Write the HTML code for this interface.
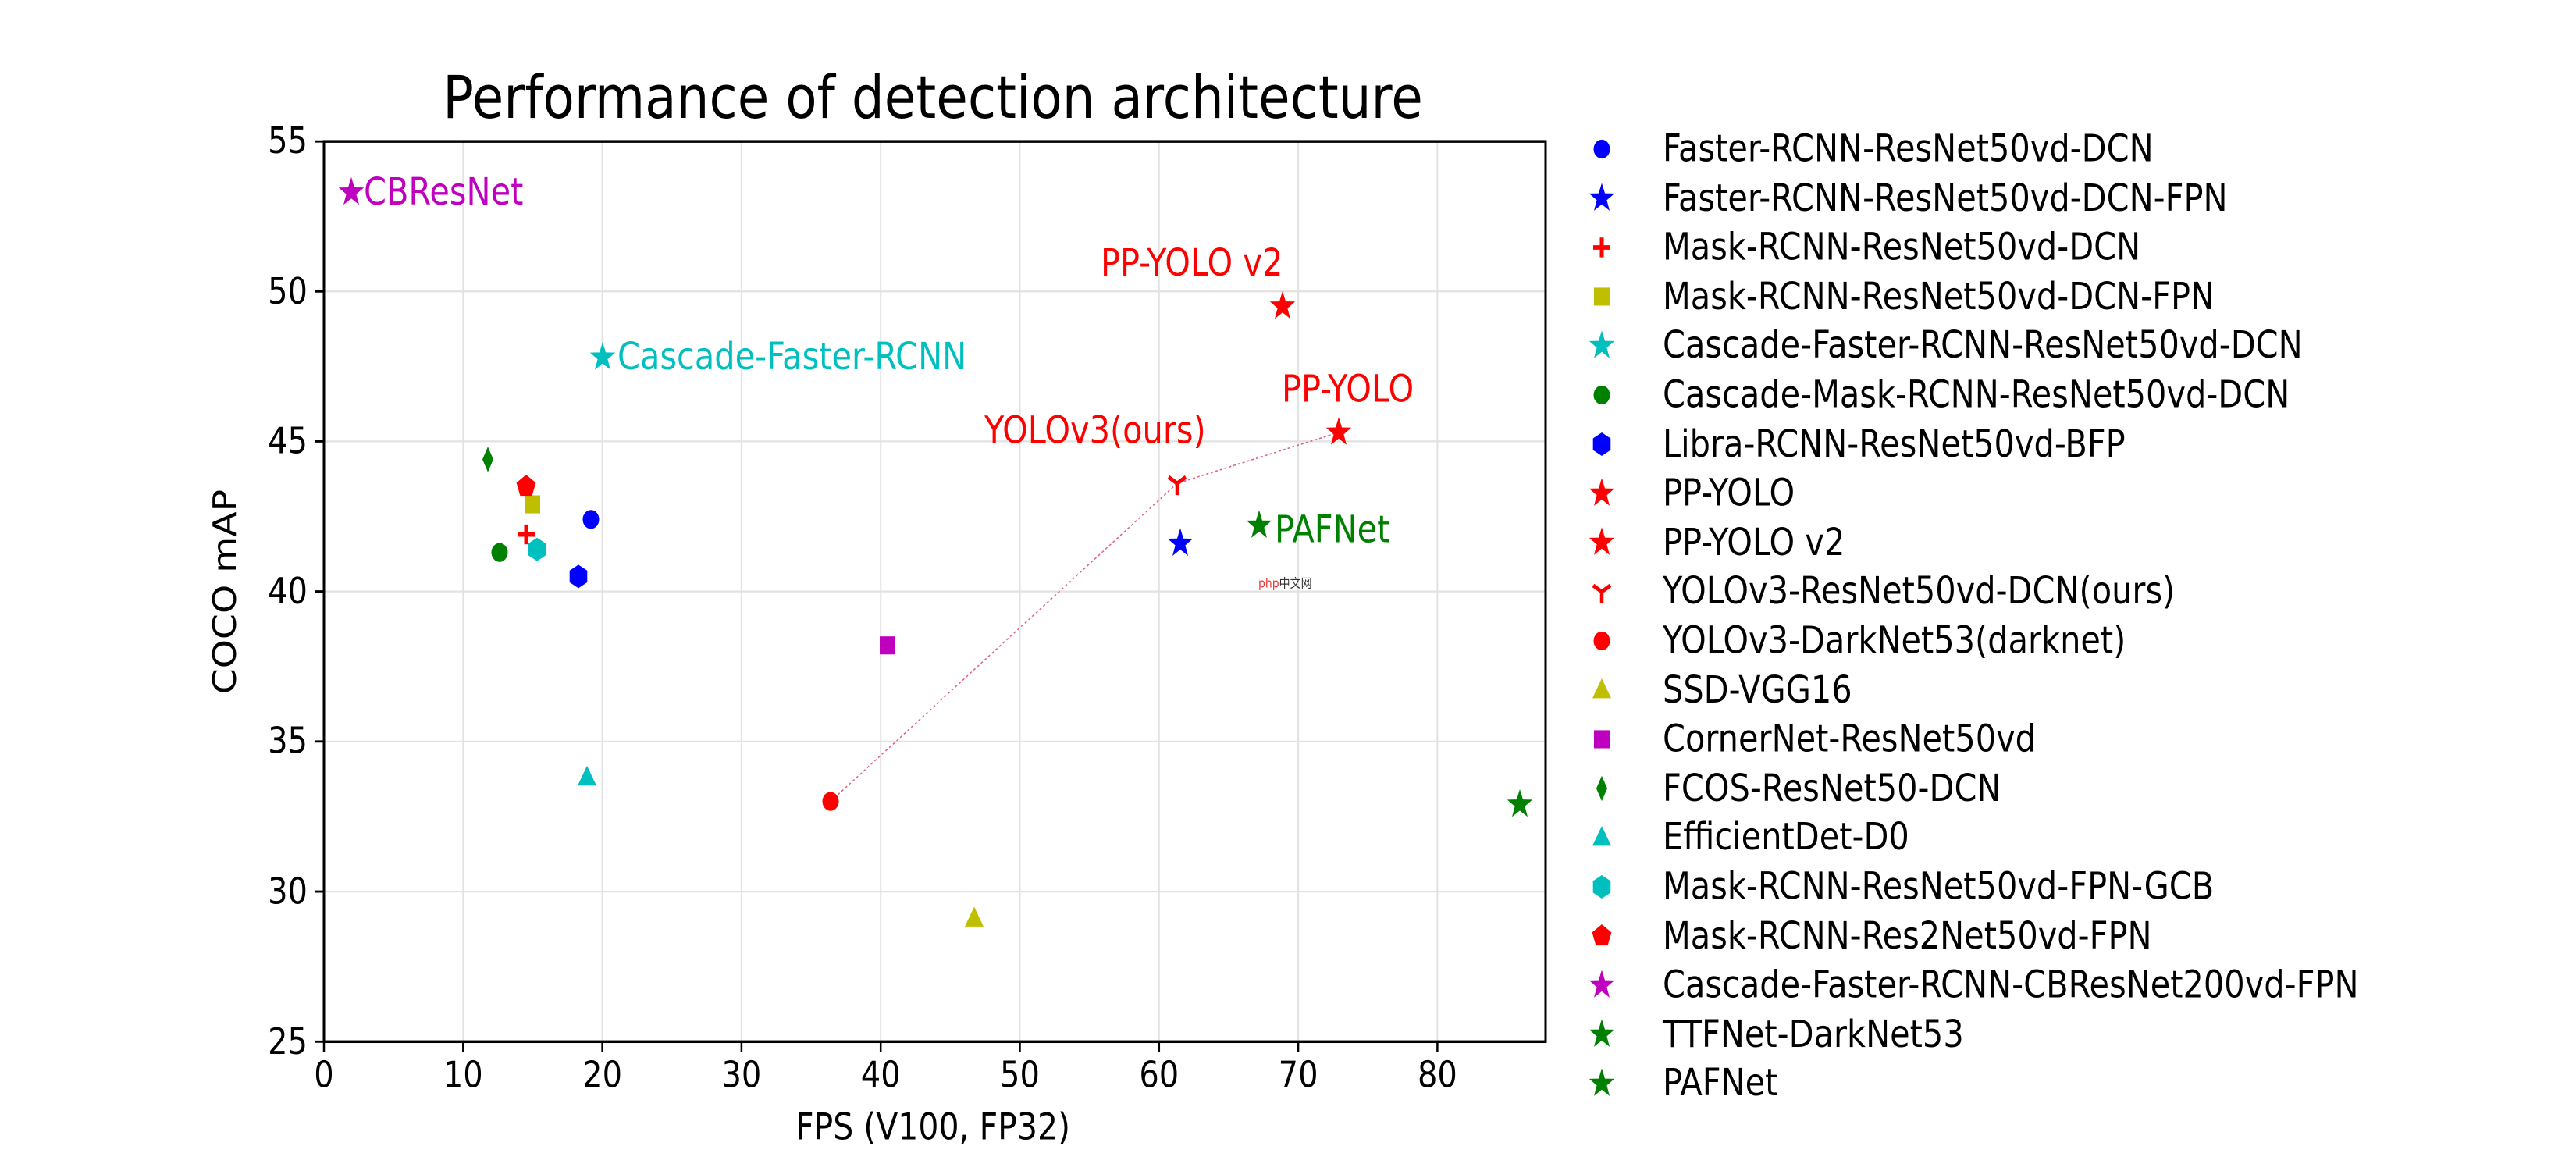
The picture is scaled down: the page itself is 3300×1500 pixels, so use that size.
<!DOCTYPE html>
<html><head><meta charset="utf-8"><style>
html,body{margin:0;padding:0;background:#fff;width:3300px;height:1500px;overflow:hidden}
svg{display:block}
text{font-family:"DejaVu Sans","Liberation Sans",sans-serif}
</style></head><body>
<svg width="3300" height="1500" viewBox="0 0 3300 1300" preserveAspectRatio="none" xmlns="http://www.w3.org/2000/svg">
<defs>
<polygon id="st" points="0,-17 4,-5.5 16.2,-5.3 6.4,2.1 10,13.8 0,6.8 -10,13.8 -6.4,2.1 -16.2,-5.3 -4,-5.5"/>
<circle id="ci" r="10.5"/>
<rect id="sq" x="-10" y="-10" width="20" height="20"/>
<polygon id="hx" points="0,-13 11.3,-6.5 11.3,6.5 0,13 -11.3,6.5 -11.3,-6.5"/>
<polygon id="pe" points="0,-13 12.4,-4 7.6,10.5 -7.6,10.5 -12.4,-4"/>
<polygon id="tr" points="0,-13 12,9 -12,9"/>
<polygon id="di" points="0,-14 7,0 0,14 -7,0"/>
<polygon id="pl" points="-2.5,-11 2.5,-11 2.5,-2.5 11,-2.5 11,2.5 2.5,2.5 2.5,11 -2.5,11 -2.5,2.5 -11,2.5 -11,-2.5 -2.5,-2.5"/>
<g id="yy" fill="none" stroke-width="4.5"><path d="M0,0 L0,13 M0,0 L-11,-7 M0,0 L11,-7"/></g>
</defs>
<g stroke="#e2e2e2" stroke-width="2">
<line x1="593.3" y1="157" x2="593.3" y2="1156"/><line x1="771.6" y1="157" x2="771.6" y2="1156"/>
<line x1="949.9" y1="157" x2="949.9" y2="1156"/><line x1="1128.2" y1="157" x2="1128.2" y2="1156"/>
<line x1="1306.5" y1="157" x2="1306.5" y2="1156"/><line x1="1484.8" y1="157" x2="1484.8" y2="1156"/>
<line x1="1663.1" y1="157" x2="1663.1" y2="1156"/><line x1="1841.4" y1="157" x2="1841.4" y2="1156"/>
<line x1="415" y1="323.5" x2="1980" y2="323.5"/><line x1="415" y1="490" x2="1980" y2="490"/>
<line x1="415" y1="656.6" x2="1980" y2="656.6"/><line x1="415" y1="823.2" x2="1980" y2="823.2"/>
<line x1="415" y1="989.8" x2="1980" y2="989.8"/>
</g>
<polyline points="1064,889.7 1508,536.6 1715,480" fill="none" stroke="#e0608a" stroke-width="1.4" stroke-dasharray="3,3"/>
<use href="#ci" x="757" y="576.6" fill="#0000ff"/>
<use href="#st" x="1512" y="603.3" fill="#0000ff"/>
<use href="#pl" x="674" y="593.3" fill="#ff0000"/>
<use href="#sq" x="682" y="559.9" fill="#bfbf00"/>
<use href="#st" x="772" y="396.7" fill="#00bfbf"/>
<use href="#ci" x="640" y="613.3" fill="#008000"/>
<use href="#hx" x="741" y="639.9" fill="#0000ff"/>
<use href="#st" x="1715" y="480" fill="#ff0000"/>
<use href="#st" x="1643" y="340.1" fill="#ff0000"/>
<use href="#yy" x="1508" y="536.6" stroke="#ff0000"/>
<use href="#ci" x="1064" y="889.7" fill="#ff0000"/>
<use href="#tr" x="1248" y="1019.6" fill="#bfbf00"/>
<use href="#sq" x="1137" y="716.5" fill="#bf00bf"/>
<use href="#di" x="625" y="510" fill="#008000"/>
<use href="#tr" x="752" y="863.1" fill="#00bfbf"/>
<use href="#hx" x="688" y="609.9" fill="#00bfbf"/>
<use href="#pe" x="674" y="539.9" fill="#ff0000"/>
<use href="#st" x="450" y="213.5" fill="#bf00bf"/>
<use href="#st" x="1947" y="893.1" fill="#008000"/>
<use href="#st" x="1613" y="583.3" fill="#008000"/>
<g font-size="41.5">
<text x="466" y="227" fill="#bf00bf">CBResNet</text>
<text x="791" y="410" fill="#00bfbf">Cascade-Faster-RCNN</text>
<text x="1410" y="306" fill="#ff0000">PP-YOLO v2</text>
<text x="1642" y="446" fill="#ff0000">PP-YOLO</text>
<text x="1261" y="492" fill="#ff0000">YOLOv3(ours)</text>
<text x="1633" y="602" fill="#008000">PAFNet</text>
</g>
<text x="1612" y="652" font-size="14" fill="#333"><tspan fill="#e33">php</tspan>中文网</text>
<rect x="415" y="157" width="1565" height="999.4" fill="none" stroke="#000" stroke-width="3"/>
<g stroke="#000" stroke-width="2.5">
<path d="M415,1156 v12 M593.3,1156 v12 M771.6,1156 v12 M949.9,1156 v12 M1128.2,1156 v12 M1306.5,1156 v12 M1484.8,1156 v12 M1663.1,1156 v12 M1841.4,1156 v12"/>
<path d="M415,157 h-12 M415,323.5 h-12 M415,490 h-12 M415,656.6 h-12 M415,823.2 h-12 M415,989.8 h-12 M415,1156.4 h-12"/>
</g>
<g font-size="40" text-anchor="middle">
<text x="415" y="1207">0</text><text x="593.3" y="1207">10</text><text x="771.6" y="1207">20</text>
<text x="949.9" y="1207">30</text><text x="1128.2" y="1207">40</text><text x="1306.5" y="1207">50</text>
<text x="1484.8" y="1207">60</text><text x="1663.1" y="1207">70</text><text x="1841.4" y="1207">80</text>
</g>
<g font-size="40" text-anchor="end">
<text x="394" y="170">55</text><text x="394" y="337">50</text><text x="394" y="503">45</text>
<text x="394" y="670">40</text><text x="394" y="836">35</text><text x="394" y="1003">30</text>
<text x="394" y="1170">25</text>
</g>
<text x="1195" y="1265" font-size="41" text-anchor="middle">FPS (V100, FP32)</text>
<text transform="translate(302,657) rotate(-90)" font-size="41" text-anchor="middle">COCO mAP</text>
<text x="1195" y="131" font-size="66" text-anchor="middle">Performance of detection architecture</text>
<g transform="translate(2052,0)">
<use href="#ci" y="165.5" fill="#0000ff"/>
<use href="#st" y="220.1" fill="#0000ff"/>
<use href="#pl" y="274.7" fill="#ff0000"/>
<use href="#sq" y="329.3" fill="#bfbf00"/>
<use href="#st" y="383.9" fill="#00bfbf"/>
<use href="#ci" y="438.5" fill="#008000"/>
<use href="#hx" y="493.1" fill="#0000ff"/>
<use href="#st" y="547.7" fill="#ff0000"/>
<use href="#st" y="602.3" fill="#ff0000"/>
<use href="#yy" y="656.9" stroke="#ff0000"/>
<use href="#ci" y="711.5" fill="#ff0000"/>
<use href="#tr" y="766.1" fill="#bfbf00"/>
<use href="#sq" y="820.7" fill="#bf00bf"/>
<use href="#di" y="875.3" fill="#008000"/>
<use href="#tr" y="929.9" fill="#00bfbf"/>
<use href="#hx" y="984.5" fill="#00bfbf"/>
<use href="#pe" y="1039.1" fill="#ff0000"/>
<use href="#st" y="1093.7" fill="#bf00bf"/>
<use href="#st" y="1148.3" fill="#008000"/>
<use href="#st" y="1202.9" fill="#008000"/>
</g>
<g font-size="41.5" fill="#000">
<text x="2130" y="179">Faster-RCNN-ResNet50vd-DCN</text>
<text x="2130" y="234">Faster-RCNN-ResNet50vd-DCN-FPN</text>
<text x="2130" y="288">Mask-RCNN-ResNet50vd-DCN</text>
<text x="2130" y="343">Mask-RCNN-ResNet50vd-DCN-FPN</text>
<text x="2130" y="397">Cascade-Faster-RCNN-ResNet50vd-DCN</text>
<text x="2130" y="452">Cascade-Mask-RCNN-ResNet50vd-DCN</text>
<text x="2130" y="507">Libra-RCNN-ResNet50vd-BFP</text>
<text x="2130" y="561">PP-YOLO</text>
<text x="2130" y="616">PP-YOLO v2</text>
<text x="2130" y="670">YOLOv3-ResNet50vd-DCN(ours)</text>
<text x="2130" y="725">YOLOv3-DarkNet53(darknet)</text>
<text x="2130" y="780">SSD-VGG16</text>
<text x="2130" y="834">CornerNet-ResNet50vd</text>
<text x="2130" y="889">FCOS-ResNet50-DCN</text>
<text x="2130" y="943">EfficientDet-D0</text>
<text x="2130" y="998">Mask-RCNN-ResNet50vd-FPN-GCB</text>
<text x="2130" y="1053">Mask-RCNN-Res2Net50vd-FPN</text>
<text x="2130" y="1107">Cascade-Faster-RCNN-CBResNet200vd-FPN</text>
<text x="2130" y="1162">TTFNet-DarkNet53</text>
<text x="2130" y="1216">PAFNet</text>
</g>
</svg>
</body></html>
